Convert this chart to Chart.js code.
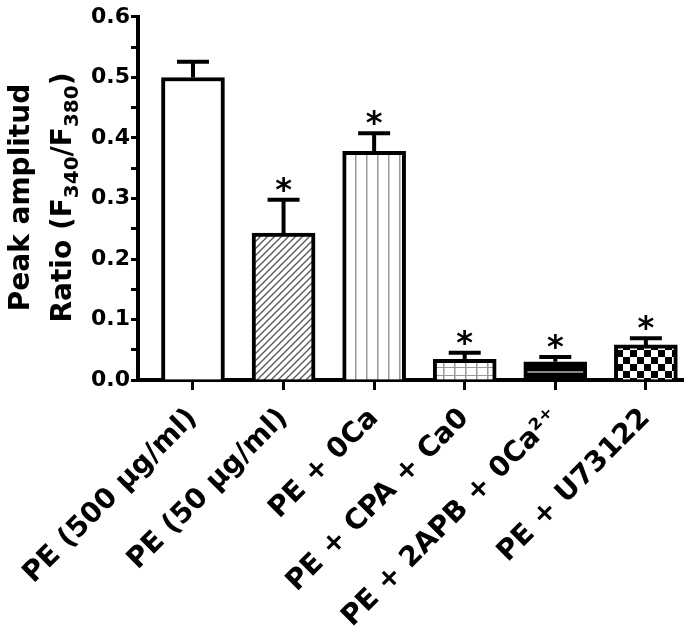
<!DOCTYPE html>
<html>
<head>
<meta charset="utf-8">
<script src="https://cdn.jsdelivr.net/npm/chart.js@4.4.0/dist/chart.umd.min.js"></script>
<style>
  body { margin: 0; background: #fff; }
  canvas { display: block; }
</style>
</head>
<body>
<canvas id="chart" width="698" height="642"></canvas>
<script>
// data
const groups = ['PE (500 μg/ml)', 'PE (50 μg/ml)', 'PE + 0Ca', 'PE + CPA + Ca0', 'PE + 2APB + 0Ca²⁺', 'PE + U73122'];
const peakRatio = [0.50, 0.243, 0.378, 0.034, 0.030, 0.058];
const semValues = [0.026, 0.055, 0.030, 0.011, 0.008, 0.011];
const significant = [false, true, true, true, true, true];
const yTicks = [0, 0.1, 0.2, 0.3, 0.4, 0.5, 0.6];

const FONT = '"DejaVu Sans", "Liberation Sans", sans-serif';
Chart.defaults.font.family = FONT;
Chart.defaults.color = '#000';

const canvas = document.getElementById('chart');
const mainCtx = canvas.getContext('2d');

function makePattern(w, h, draw) {
  const c = document.createElement('canvas');
  c.width = w; c.height = h;
  const g = c.getContext('2d');
  draw(g, w, h);
  return mainCtx.createPattern(c, 'repeat');
}

// fills for each bar
const hatch = makePattern(7, 7, (g, w, h) => {
  g.fillStyle = '#fff'; g.fillRect(0, 0, w, h);
  g.strokeStyle = '#555'; g.lineWidth = 1.3;
  g.beginPath();
  g.moveTo(0, h); g.lineTo(w, 0);
  g.moveTo(-1, 1); g.lineTo(1, -1);
  g.moveTo(w - 1, h + 1); g.lineTo(w + 1, h - 1);
  g.stroke();
});
const vlines = makePattern(11, 10, (g, w, h) => {
  g.fillStyle = '#fff'; g.fillRect(0, 0, w, h);
  g.fillStyle = '#999'; g.fillRect(3, 0, 1.5, h);
});
const gridFill = makePattern(11, 8, (g, w, h) => {
  g.fillStyle = '#fff'; g.fillRect(0, 0, w, h);
  g.fillStyle = '#999';
  g.fillRect(3, 0, 1.5, h);
  g.fillRect(0, 7, w, 1.5);
});
const darkFill = makePattern(8, 16, (g, w, h) => {
  g.fillStyle = '#000'; g.fillRect(0, 0, w, h);
  g.fillStyle = '#888'; g.fillRect(0, 3, w, 2);
});
const checker = makePattern(14, 14, (g, w, h) => {
  g.fillStyle = '#fff'; g.fillRect(0, 0, w, h);
  g.fillStyle = '#000';
  g.fillRect(0, 0, 7, 7);
  g.fillRect(7, 7, 7, 7);
});

// upper error bars and significance stars
const errorBars = {
  id: 'errorBars',
  afterDatasetsDraw(chart) {
    const { ctx, scales: { x, y } } = chart;
    ctx.save();
    ctx.strokeStyle = '#000';
    ctx.fillStyle = '#000';
    ctx.lineWidth = 4;
    peakRatio.forEach((v, i) => {
      const px = x.getPixelForValue(i);
      const base = y.getPixelForValue(v);
      const top = y.getPixelForValue(v + semValues[i]);
      ctx.beginPath();
      ctx.moveTo(px, base);
      ctx.lineTo(px, top);
      ctx.moveTo(px - 16, top);
      ctx.lineTo(px + 16, top);
      ctx.stroke();
      if (significant[i]) {
        ctx.font = 'bold 32px ' + FONT;
        ctx.textAlign = 'center';
        ctx.textBaseline = 'alphabetic';
        ctx.fillText('*', px, top);
      }
    });
    ctx.restore();
  }
};

// two-line y title with subscripts
const yTitle = {
  id: 'yTitle',
  afterDraw(chart) {
    const ctx = chart.ctx;
    const cy = (chart.chartArea.top + chart.chartArea.bottom) / 2 - 1;
    ctx.save();
    ctx.fillStyle = '#000';
    ctx.textBaseline = 'alphabetic';
    ctx.font = 'bold 28px ' + FONT;
    ctx.save();
    ctx.translate(29, cy);
    ctx.rotate(-Math.PI / 2);
    ctx.textAlign = 'center';
    ctx.fillText('Peak amplitud', 0, 0);
    ctx.restore();

    const parts = [['Ratio (F', 0], ['340', 1], ['/F', 0], ['380', 1], [')', 0]];
    const big = 'bold 28px ' + FONT, small = 'bold 20px ' + FONT;
    let total = 0;
    parts.forEach(p => { ctx.font = p[1] ? small : big; total += ctx.measureText(p[0]).width; });
    ctx.translate(71, cy);
    ctx.rotate(-Math.PI / 2);
    ctx.textAlign = 'left';
    let xPos = -total / 2;
    parts.forEach(p => {
      ctx.font = p[1] ? small : big;
      ctx.fillText(p[0], xPos, p[1] ? 7 : 0);
      xPos += ctx.measureText(p[0]).width;
    });
    ctx.restore();
  }
};

new Chart(mainCtx, {
  type: 'bar',
  data: {
    datasets: [{
      data: peakRatio.map((v, i) => ({ x: i, y: v })),
      backgroundColor: ['#fff', hatch, vlines, gridFill, darkFill, checker],
      borderColor: '#000',
      borderWidth: 4,
      barThickness: 63
    }]
  },
  options: {
    responsive: false,
    animation: false,
    layout: { padding: { top: 17, right: 15, left: 0, bottom: 0 } },
    plugins: { legend: { display: false }, tooltip: { enabled: false } },
    scales: {
      x: {
        type: 'linear',
        offset: false,
        min: -0.607,
        max: 5.41,
        afterBuildTicks: s => { s.ticks = groups.map((g, i) => ({ value: i })); },
        afterFit: s => { s.height = 262; },
        ticks: {
          callback: v => groups[v],
          autoSkip: false,
          minRotation: 45,
          maxRotation: 45,
          padding: 12,
          font: { size: 28, weight: 'bold' }
        },
        grid: { offset: false, drawOnChartArea: false, tickLength: 10, tickWidth: 3, tickColor: '#000' },
        border: { width: 4, color: '#000' }
      },
      y: {
        min: 0,
        max: 0.6,
        afterBuildTicks: s => {
          const t = [];
          for (let k = 0; k <= 12; k++) t.push({ value: k * 0.05 });
          s.ticks = t;
        },
        afterFit: s => { s.width = 138; },
        ticks: {
          callback: v => yTicks.some(t => Math.abs(t - v) < 1e-6) ? v.toFixed(1) : '',
          padding: 1,
          font: { size: 22, weight: 'bold' }
        },
        grid: { drawOnChartArea: false, tickLength: 7, tickWidth: 3, tickColor: '#000' },
        border: { width: 4, color: '#000' }
      }
    }
  },
  plugins: [errorBars, yTitle]
});
</script>
</body>
</html>
